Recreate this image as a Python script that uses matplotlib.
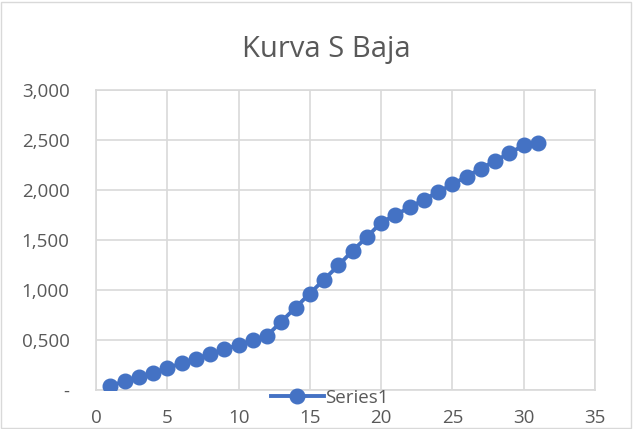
import matplotlib
matplotlib.use("Agg")
import matplotlib.pyplot as plt
from matplotlib.ticker import FuncFormatter, MultipleLocator
from matplotlib.patches import Rectangle

x_values = list(range(1, 32))
y_values = [43, 86, 130, 173, 220, 267, 314, 360, 407, 451, 497, 544, 684, 825,
            965, 1105, 1246, 1393, 1530, 1674, 1750, 1827, 1904, 1981, 2058, 2135,
            2215, 2292, 2369, 2446, 2469]
series_name = "Series1"
title = "Kurva S Baja"

plt.rcParams['font.family'] = ['Open Sans', 'DejaVu Sans']
text_color = "#595959"
grid_color = "#d9d9d9"
line_color = "#4472C4"

fig = plt.figure(figsize=(6.34, 4.29), dpi=100)
ax = fig.add_axes([96/634, 1 - 390/429, (595-96)/634, (390-90)/429])

ax.plot(x_values, y_values, color=line_color, lw=2.8, marker='o', markersize=10.5,
        label=series_name, zorder=3)

ax.set_xlim(0, 35)
ax.set_ylim(0, 3000)
ax.xaxis.set_major_locator(MultipleLocator(5))
ax.yaxis.set_major_locator(MultipleLocator(500))

def yfmt(v, pos):
    if abs(v) < 1e-9:
        return "-"
    s = f"{v/1000:.3f}"
    return s.replace('.', ',')

ax.yaxis.set_major_formatter(FuncFormatter(yfmt))
ax.grid(True, color=grid_color, lw=1.2, zorder=0)
for sp in ax.spines.values():
    sp.set_color(grid_color)
    sp.set_linewidth(1.2)
ax.tick_params(length=0, labelsize=13.5, labelcolor=text_color)
ax.tick_params(axis='x', pad=14)
ax.tick_params(axis='y', pad=19)
for lbl in ax.get_yticklabels():
    lbl.set_horizontalalignment('right')

fig.text(326/634, 1 - 50/429, title, ha='center', va='center', fontsize=21, color=text_color)

leg = ax.legend(loc='center', bbox_to_anchor=(330/634, 1 - 398/429), bbox_transform=fig.transFigure,
                frameon=False, fontsize=13.5, handlelength=2.8, handletextpad=0.1, borderpad=0)
for t in leg.get_texts():
    t.set_color(text_color)

fig.patches.append(Rectangle((0.002, 0.002), 0.994, 0.994, transform=fig.transFigure,
                             fill=False, edgecolor=grid_color, lw=1))

fig.savefig("out.png", dpi=100)
